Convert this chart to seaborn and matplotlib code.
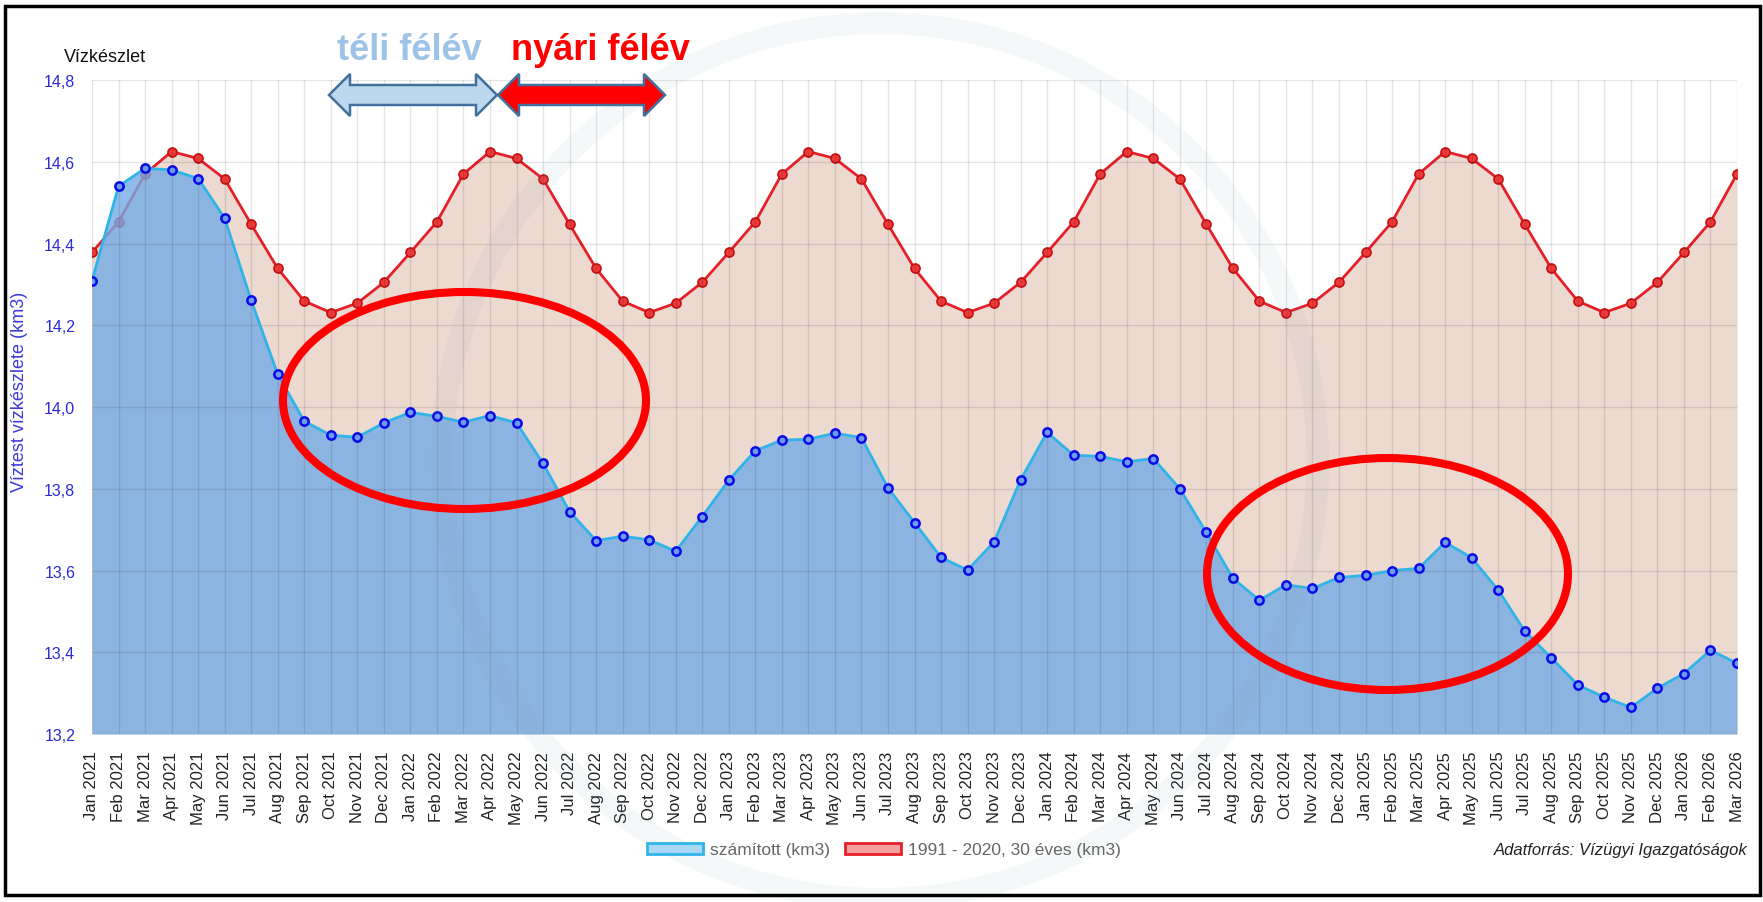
import pandas as pd
import matplotlib.pyplot as plt
import seaborn as sns
from matplotlib.patches import Ellipse, Polygon, Rectangle, Patch

# Havi címkék (Jan 2021 - Mar 2026)
honapok = ['Jan', 'Feb', 'Mar', 'Apr', 'May', 'Jun', 'Jul', 'Aug', 'Sep', 'Oct', 'Nov', 'Dec']
evek = [2021, 2022, 2023, 2024, 2025, 2026]
cimkek = [f'{h} {e}' for e in evek for h in honapok][:63]

# számított vízkészlet (km3)
szamitott = [
    14.309, 14.540, 14.584, 14.580, 14.559, 14.462, 14.261, 14.080, 13.965, 13.931, 13.926, 13.961,
    13.987, 13.977, 13.963, 13.979, 13.961, 13.862, 13.744, 13.673, 13.684, 13.675, 13.647, 13.732,
    13.821, 13.893, 13.919, 13.921, 13.936, 13.925, 13.802, 13.717, 13.632, 13.601, 13.670, 13.822,
    13.938, 13.882, 13.879, 13.866, 13.874, 13.800, 13.693, 13.581, 13.527, 13.565, 13.556, 13.583,
    13.588, 13.600, 13.605, 13.669, 13.631, 13.552, 13.452, 13.386, 13.320, 13.290, 13.265, 13.312,
    13.348, 13.405, 13.373,
]

# 1991 - 2020, 30 éves átlag (km3)
atlag = [
    14.378, 14.453, 14.570, 14.625, 14.608, 14.558, 14.447, 14.339, 14.259, 14.231, 14.254, 14.305,
    14.378, 14.453, 14.570, 14.625, 14.608, 14.558, 14.447, 14.339, 14.259, 14.231, 14.254, 14.305,
    14.378, 14.453, 14.570, 14.625, 14.608, 14.558, 14.447, 14.339, 14.259, 14.231, 14.254, 14.305,
    14.378, 14.453, 14.570, 14.625, 14.608, 14.558, 14.447, 14.339, 14.259, 14.231, 14.254, 14.305,
    14.378, 14.453, 14.570, 14.625, 14.608, 14.558, 14.447, 14.339, 14.259, 14.231, 14.254, 14.305,
    14.378, 14.453, 14.570,
]

y_ticks = [13.2, 13.4, 13.6, 13.8, 14.0, 14.2, 14.4, 14.6, 14.8]

df = pd.DataFrame({'honap': cimkek, 'x': range(len(cimkek)),
                   'szamitott': szamitott, 'atlag': atlag})

sns.set_style('white')
plt.rcParams['font.family'] = ['Liberation Sans', 'DejaVu Sans']

W, H = 1763, 903
fig = plt.figure(figsize=(W / 100, H / 100), dpi=100)
ax = fig.add_axes([92 / W, 1 - 735 / H, (1737 - 92) / W, (735 - 81) / H])


def fx(x):
    return x / W


def fy(y):
    return 1 - y / H


# kitöltések és vonalak
ax.fill_between(df['x'], 13.2, df['atlag'], color='#ECD9D0', lw=0, zorder=1)
sns.lineplot(data=df, x='x', y='atlag', ax=ax, color='#E5202A', lw=2,
             marker='o', markersize=6.5, markerfacecolor='#EE3A3A',
             markeredgecolor='#C41010', markeredgewidth=1.2, zorder=1.2)
ax.fill_between(df['x'], 13.2, df['szamitott'], color='#74ABE6', alpha=0.8, lw=0, zorder=1.3)
sns.lineplot(data=df, x='x', y='szamitott', ax=ax, color='#30B4E8', lw=2,
             marker='o', markersize=6, markerfacecolor='#6C9CEC',
             markeredgecolor='#0A0AE8', markeredgewidth=1.8, zorder=3)

ax.set_axisbelow('line')
ax.grid(True, color='#000000', alpha=0.1, lw=1)
ax.set_xlim(0, len(cimkek) - 1)
ax.set_ylim(13.2, 14.8)
ax.set_xticks(df['x'])
ax.set_xticklabels(cimkek, rotation=90, fontsize=12, color='#222222')
ax.set_yticks(y_ticks)
ax.set_yticklabels([f'{v:.1f}'.replace('.', ',') for v in y_ticks], fontsize=11.5, color='#2B2BD6')
ax.tick_params(axis='both', length=8, width=1, color='#E2E2E2', pad=4)
ax.set_xlabel('')
ax.set_ylabel('')
for s in ax.spines.values():
    s.set_visible(False)

# halvány vízjel-gyűrű
fig.add_artist(Ellipse((fx(880), fy(462)), 876 / W, 876 / H, transform=fig.transFigure,
                       fill=False, edgecolor='#7F9DB8', alpha=0.07, lw=16))

# feliratok
fig.text(fx(64), fy(57), 'Vízkészlet', fontsize=13, color='#111111', va='center', ha='left')
fig.text(fx(20), fy(392), 'Víztest vízkészlete (km3)', rotation=90, fontsize=13,
         color='#3A3ADB', va='center', ha='center')
fig.text(fx(337), fy(50), 'téli félév', fontsize=26, fontweight='bold', color='#9DC3E6',
         va='center', ha='left')
fig.text(fx(511), fy(50), 'nyári félév', fontsize=26, fontweight='bold', color='#FF0000',
         va='center', ha='left')
fig.text(fx(1748), fy(851), 'Adatforrás: Vízügyi Igazgatóságok', fontsize=12, style='italic',
         color='#222222', ha='right', va='center')


def ketiranyu_nyil(x0, x1, yc, fej=21, fej_fel=21, torzs_fel=10):
    pts = [(x0, yc), (x0 + fej, yc - fej_fel), (x0 + fej, yc - torzs_fel),
           (x1 - fej, yc - torzs_fel), (x1 - fej, yc - fej_fel), (x1, yc),
           (x1 - fej, yc + fej_fel), (x1 - fej, yc + torzs_fel),
           (x0 + fej, yc + torzs_fel), (x0 + fej, yc + fej_fel)]
    return [(fx(a), fy(b)) for a, b in pts]


fig.add_artist(Polygon(ketiranyu_nyil(329, 497, 96), closed=True, transform=fig.transFigure,
                       facecolor='#BDD7EE', edgecolor='#41719C', lw=1.8))
fig.add_artist(Polygon(ketiranyu_nyil(498, 665, 96), closed=True, transform=fig.transFigure,
                       facecolor='#FF0000', edgecolor='#41719C', lw=1.8))

# kiemelő ellipszisek
for cx, cy, w, h in [(464.5, 401.5, 363, 217), (1387.5, 575, 361, 232)]:
    fig.add_artist(Ellipse((fx(cx), fy(cy)), w / W, h / H, transform=fig.transFigure,
                           fill=False, edgecolor='#FF0000', lw=5.8))

# jelmagyarázat
kezelok = [Patch(facecolor='#A8D8F4', edgecolor='#30B4E8', lw=2, label='számított (km3)'),
           Patch(facecolor='#F4A0A0', edgecolor='#E5202A', lw=2, label='1991 - 2020, 30 éves (km3)')]
fig.legend(handles=kezelok, loc='center', bbox_to_anchor=(fx(884), fy(851)), ncol=2,
           frameon=False, fontsize=12.5, labelcolor='#666666', handlelength=3.2,
           handleheight=0.6, columnspacing=0.9, handletextpad=0.4)

# keret
fig.add_artist(Rectangle((fx(5), fy(896)), (1760 - 5) / W, (896 - 7) / H,
                         transform=fig.transFigure, fill=False, edgecolor='black', lw=2.5))

fig.savefig('out.png', dpi=100)
